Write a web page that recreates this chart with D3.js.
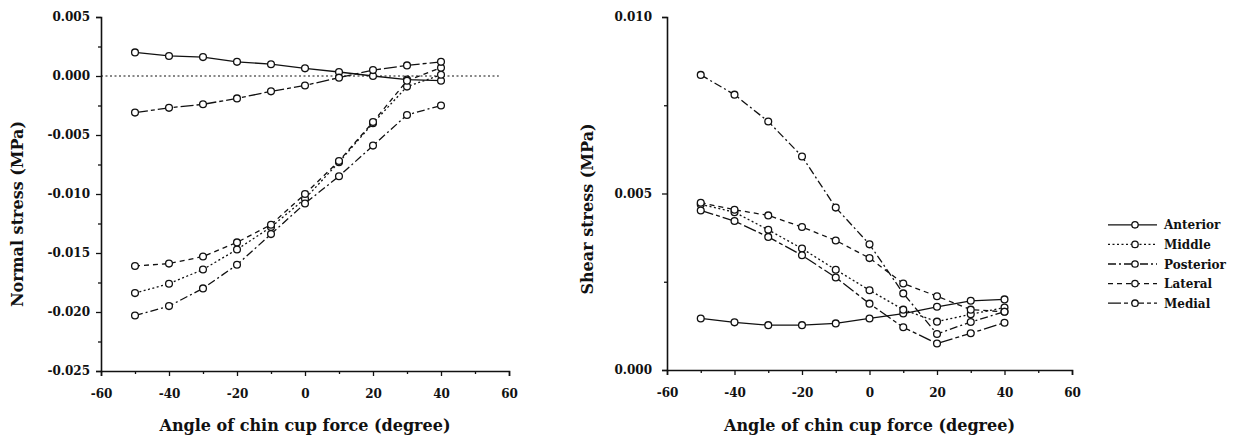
<!DOCTYPE html>
<html><head><meta charset="utf-8">
<script src="https://cdn.jsdelivr.net/npm/d3@7"></script>
<style>
body{margin:0;background:#fff;}
text{font-family:"DejaVu Serif","Liberation Serif",serif;font-weight:bold;fill:#111;}
</style></head><body>
<svg id="c" width="1248" height="438"></svg>
<script>
const angles = [-50,-40,-30,-20,-10,0,10,20,30,40];
const seriesNames = ["Anterior","Middle","Posterior","Lateral","Medial"];
// Normal stress (MPa)
const normalAnterior  = [0.0020,0.0017,0.0016,0.0012,0.0010,0.00065,0.00034,0.0000,-0.0003,-0.0004];
const normalMiddle    = [-0.0184,-0.0176,-0.0164,-0.0147,-0.0128,-0.0104,-0.0073,-0.0040,-0.0009,0.0001];
const normalPosterior = [-0.0203,-0.0195,-0.0180,-0.0160,-0.0134,-0.0108,-0.0085,-0.0059,-0.0033,-0.0025];
const normalLateral   = [-0.0161,-0.0159,-0.0153,-0.0141,-0.0126,-0.0100,-0.0072,-0.0039,-0.0004,0.0007];
const normalMedial    = [-0.0031,-0.0027,-0.0024,-0.0019,-0.0013,-0.0008,-0.00014,0.0005,0.0009,0.0012];
// Shear stress (MPa)
const shearAnterior  = [0.00146,0.00135,0.00127,0.00127,0.00132,0.00146,0.00160,0.00179,0.00196,0.00200];
const shearMiddle    = [0.00469,0.00447,0.00397,0.00344,0.00284,0.00226,0.00171,0.00137,0.00158,0.00177];
const shearPosterior = [0.00836,0.00780,0.00704,0.00605,0.00460,0.00356,0.00217,0.00102,0.00136,0.00165];
const shearLateral   = [0.00474,0.00454,0.00438,0.00405,0.00367,0.00317,0.00245,0.00209,0.00171,0.00165];
const shearMedial    = [0.00452,0.00422,0.00377,0.00325,0.00262,0.00188,0.00121,0.00075,0.00104,0.00134];

const xTicks = [-60,-40,-20,0,20,40,60];
const xMinor = [-50,-30,-10,10,30,50];
const normalTicks = [0.005,0.000,-0.005,-0.010,-0.015,-0.020,-0.025];
const normalMinor = [0.0025,-0.0025,-0.0075,-0.0125,-0.0175,-0.0225];
const shearTicks = [0.000,0.005,0.010];
const shearMinor = [0.0025,0.0075];

const dashes = {Anterior:null, Middle:"2,2.5", Posterior:"8,3,2,3", Lateral:"5,4", Medial:"13,3,4,3"};

const svg = d3.select("#c");
const fmt = d=>d3.format(".3f")(d).replace("\u2212","-");

function panel(opt){
  const x = d3.scaleLinear().domain([-60,60]).range([opt.x0,opt.x1]);
  const y = d3.scaleLinear().domain(opt.ydom).range([opt.y1,opt.y0]);
  const g = svg.append("g");
  const xa = g.append("g").attr("transform",`translate(0,${opt.y1})`)
    .call(d3.axisBottom(x).tickValues(xTicks).tickFormat(d=>String(d)).tickSize(5).tickPadding(13));
  const ya = g.append("g").attr("transform",`translate(${opt.x0},0)`)
    .call(d3.axisLeft(y).tickValues(opt.ticks).tickFormat(fmt).tickSize(5).tickPadding(opt.ypad));
  [xa,ya].forEach(a=>a.selectAll(".tick text").attr("font-family",null).style("font-family","DejaVu Serif, serif")
    .style("font-weight","bold").style("font-size","12px").attr("fill","#111"));
  xa.append("g").call(d3.axisBottom(x).tickValues(xMinor).tickFormat("").tickSize(3)).select(".domain").remove();
  ya.append("g").call(d3.axisLeft(y).tickValues(opt.minor).tickFormat("").tickSize(3)).select(".domain").remove();
  g.selectAll(".domain").attr("stroke","#111").attr("stroke-width",1.6);
  g.selectAll(".tick line").attr("stroke","#111").attr("stroke-width",1.3);
  g.append("text").attr("x",(opt.x0+opt.x1)/2).attr("y",431).attr("text-anchor","middle")
    .style("font-size","16px").text("Angle of chin cup force (degree)");
  g.append("text").attr("transform",`translate(${opt.ylabX},${opt.ylabY}) rotate(-90)`).attr("text-anchor","middle")
    .style("font-size","16px").text(opt.ytitle);
  if(opt.zero){
    g.append("line").attr("x1",x(-60)).attr("x2",x(57)).attr("y1",y(0)).attr("y2",y(0))
      .attr("stroke","#111").attr("stroke-width",1).attr("stroke-dasharray","2,2.5");
  }
  const line = d3.line().x((d,i)=>x(angles[i])).y(d=>y(d));
  seriesNames.forEach((n,k)=>{
    g.append("path").attr("d",line(opt.data[k])).attr("fill","none").attr("stroke","#111")
      .attr("stroke-width",1.3).attr("stroke-dasharray",dashes[n]);
  });
  seriesNames.forEach((n,k)=>{
    g.append("g").selectAll("circle").data(opt.data[k]).join("circle")
      .attr("cx",(d,i)=>x(angles[i])).attr("cy",d=>y(d)).attr("r",3.4)
      .attr("fill","#fff").attr("stroke","#111").attr("stroke-width",1.3);
  });
}

panel({x0:101,x1:509,y0:17,y1:371,ydom:[-0.025,0.005],ticks:normalTicks,minor:normalMinor,ypad:6,
  ytitle:"Normal stress (MPa)",ylabX:23,ylabY:214,zero:true,
  data:[normalAnterior,normalMiddle,normalPosterior,normalLateral,normalMedial]});
panel({x0:667,x1:1072,y0:17,y1:370,ydom:[0,0.010],ticks:shearTicks,minor:shearMinor,ypad:10,
  ytitle:"Shear stress (MPa)",ylabX:593,ylabY:209,zero:false,
  data:[shearAnterior,shearMiddle,shearPosterior,shearLateral,shearMedial]});

const lg = svg.append("g");
const legY = d3.scaleBand().domain(seriesNames).range([215,313]);
seriesNames.forEach(n=>{
  const yy = legY(n)+legY.bandwidth()/2;
  lg.append("line").attr("x1",1108).attr("x2",1157).attr("y1",yy).attr("y2",yy)
    .attr("stroke","#111").attr("stroke-width",1.3).attr("stroke-dasharray",dashes[n]);
  lg.append("circle").attr("cx",1135).attr("cy",yy).attr("r",3.2).attr("fill","#fff").attr("stroke","#111").attr("stroke-width",1.3);
  lg.append("text").attr("x",1164).attr("y",yy+4.5).style("font-size","12px").text(n);
});
</script></body></html>
